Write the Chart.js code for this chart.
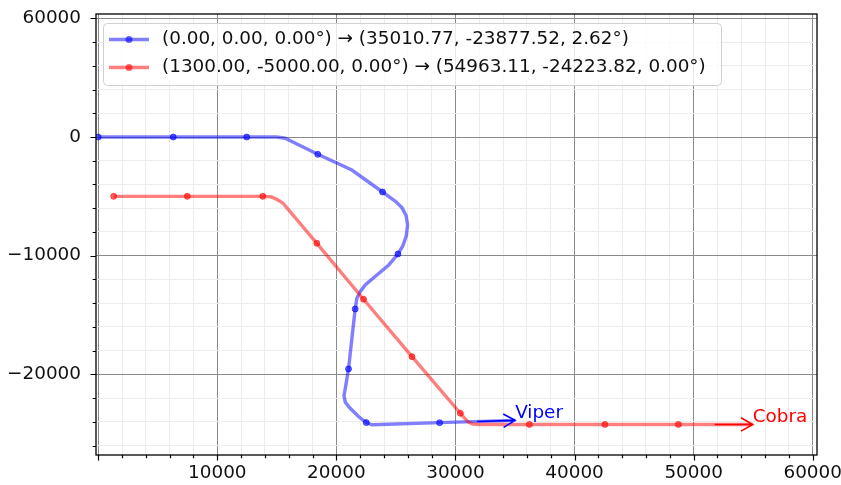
<!DOCTYPE html>
<html>
<head>
<meta charset="utf-8">
<script src="https://cdn.jsdelivr.net/npm/chart.js@4.4.1/dist/chart.umd.min.js"></script>
<style>
  html, body { margin: 0; padding: 0; background: #fff; }
  canvas { display: block; }
</style>
</head>
<body>
<canvas id="stage" width="841" height="485"></canvas>
<script>
// Viper track
const viperName = 'Viper';
const viperLabel = '(0.00, 0.00, 0.00°) → (35010.77, -23877.52, 2.62°)';
const viperPathX = [0, 6300, 12470, 15000, 15700, 16300, 18440, 21300, 23880, 25000, 25500, 25850, 25980, 25880, 25570, 25170, 24400, 23400, 22420, 22000, 21720, 21580, 21300, 21020, 20780, 20640, 20750, 21160, 21860, 22510, 22990, 28670, 35010.77];
const viperPathY = [0, 0, 0, 0, -100, -400, -1458, -2780, -4633, -5450, -5950, -6600, -7400, -8300, -9200, -9857, -10780, -11630, -12470, -13030, -13590, -14490, -17000, -19545, -21000, -21800, -22350, -22860, -23560, -24070, -24250, -24074, -23877.52];
const viperMarkX = [0, 6300, 12470, 18440, 23880, 25170, 21580, 21020, 22510, 28670];
const viperMarkY = [0, 0, 0, -1458, -4633, -9857, -14490, -19545, -24070, -24074];

// Cobra track
const cobraName = 'Cobra';
const cobraLabel = '(1300.00, -5000.00, 0.00°) → (54963.11, -24223.82, 0.00°)';
const cobraPathX = [1300, 7480, 13820, 14500, 15000, 15500, 18360, 22280, 26350, 30410, 30800, 31100, 31450, 31900, 36210, 42550, 48720, 54963.11];
const cobraPathY = [-5000, -5000, -5000, -5030, -5250, -5560, -8955, -13670, -18510, -23280, -23740, -24030, -24190, -24224, -24224, -24224, -24224, -24223.82];
const cobraMarkX = [1300, 7480, 13820, 18360, 22280, 26350, 30410, 36210, 42550, 48720];
const cobraMarkY = [-5000, -5000, -5000, -8955, -13670, -18510, -23280, -24224, -24224, -24224];

// axis ticks
const xMajorTicks = [0, 10000, 20000, 30000, 40000, 50000, 60000];
const xTickLabels = ['', '10000', '20000', '30000', '40000', '50000', '60000'];
const yMajorTicks = [-20000, -10000, 0, 10000];
const yTickLabels = ['−20000', '−10000', '0', '60000'];
const minorStep = 2000;

const FONT = '"DejaVu Sans", sans-serif';
const FONT_SIZE = 18.4;

function pts(xs, ys) {
  return xs.map((x, i) => ({ x: x, y: ys[i] }));
}

function tickValues(min, max) {
  const out = [];
  for (let v = Math.ceil(min / minorStep) * minorStep; v <= max; v += minorStep) out.push({ value: v });
  return out;
}

const ships = [
  { name: viperName, label: viperLabel, line: 'rgba(0,0,255,0.5)', dot: 'rgba(0,0,255,0.6)', solid: '#0000ff' },
  { name: cobraName, label: cobraLabel, line: 'rgba(255,0,0,0.5)', dot: 'rgba(255,0,0,0.6)', solid: '#ff0000' }
];

function pathSet(xs, ys, color, order) {
  return { data: pts(xs, ys), showLine: true, borderColor: color, borderWidth: 3.4, pointRadius: 0, tension: 0, order: order };
}
function markSet(xs, ys, color, order) {
  return { data: pts(xs, ys), showLine: false, backgroundColor: color, borderColor: color, borderWidth: 1, pointRadius: 3, order: order };
}

// tick marks: long for major, short for minor
const tickMarks = {
  id: 'tickMarks',
  afterDraw(chart) {
    const ctx = chart.ctx, a = chart.chartArea;
    const sx = chart.scales.x, sy = chart.scales.y;
    ctx.save();
    ctx.strokeStyle = '#000';
    ctx.lineWidth = 1.2;
    ctx.beginPath();
    sx.ticks.forEach(t => {
      const p = Math.round(sx.getPixelForValue(t.value)) + 0.5;
      const len = xMajorTicks.includes(t.value) ? 5.5 : 3.3;
      ctx.moveTo(p, a.bottom); ctx.lineTo(p, a.bottom + len);
    });
    sy.ticks.forEach(t => {
      const p = Math.round(sy.getPixelForValue(t.value)) + 0.5;
      const len = yMajorTicks.includes(t.value) ? 5.5 : 3.3;
      ctx.moveTo(a.left, p); ctx.lineTo(a.left - len, p);
    });
    ctx.stroke();
    // frame
    ctx.lineWidth = 1.3;
    ctx.strokeRect(a.left, a.top, a.right - a.left, a.bottom - a.top);
    ctx.restore();
  }
};

// end-of-track arrows with ship names
const shipTags = {
  id: 'shipTags',
  afterDatasetsDraw(chart) {
    const ctx = chart.ctx;
    const sx = chart.scales.x, sy = chart.scales.y;
    const tracks = [[viperPathX, viperPathY], [cobraPathX, cobraPathY]];
    ctx.save();
    tracks.forEach((tr, i) => {
      const n = tr[0].length;
      const tx = sx.getPixelForValue(tr[0][n - 1]), ty = sy.getPixelForValue(tr[1][n - 1]);
      const px = sx.getPixelForValue(tr[0][n - 2]), py = sy.getPixelForValue(tr[1][n - 2]);
      const ang = Math.atan2(ty - py, tx - px);
      const shaft = 38, head = 13.5, spread = 0.52;
      ctx.strokeStyle = ships[i].solid;
      ctx.lineWidth = 1.6;
      ctx.beginPath();
      ctx.moveTo(tx - shaft * Math.cos(ang), ty - shaft * Math.sin(ang));
      ctx.lineTo(tx, ty);
      ctx.moveTo(tx - head * Math.cos(ang - spread), ty - head * Math.sin(ang - spread));
      ctx.lineTo(tx, ty);
      ctx.lineTo(tx - head * Math.cos(ang + spread), ty - head * Math.sin(ang + spread));
      ctx.stroke();
      ctx.fillStyle = ships[i].solid;
      ctx.font = FONT_SIZE + 'px ' + FONT;
      ctx.textAlign = 'left';
      ctx.textBaseline = 'alphabetic';
      ctx.fillText(ships[i].name, tx, ty - 2);
    });
    ctx.restore();
  }
};

// legend box in the upper left of the plot
const boxLegend = {
  id: 'boxLegend',
  afterDraw(chart) {
    const ctx = chart.ctx, a = chart.chartArea;
    const left = a.left + 7, top = a.top + 9, w = 618, h = 62;
    ctx.save();
    ctx.beginPath();
    ctx.roundRect(left + 0.5, top + 0.5, w, h, 4);
    ctx.fillStyle = 'rgba(255,255,255,0.8)';
    ctx.fill();
    ctx.strokeStyle = '#d0d0d0';
    ctx.lineWidth = 1;
    ctx.stroke();
    ships.forEach((s, i) => {
      const y = top + 16.5 + i * 28;
      ctx.strokeStyle = s.line;
      ctx.lineWidth = 3.4;
      ctx.beginPath();
      ctx.moveTo(left + 6, y); ctx.lineTo(left + 46, y);
      ctx.stroke();
      ctx.fillStyle = s.dot;
      ctx.beginPath();
      ctx.arc(left + 26, y, 3.5, 0, Math.PI * 2);
      ctx.fill();
      ctx.fillStyle = '#111';
      ctx.font = FONT_SIZE + 'px ' + FONT;
      ctx.textAlign = 'left';
      ctx.textBaseline = 'middle';
      ctx.fillText(s.label, left + 59, y);
    });
    ctx.restore();
  }
};

const canvas = document.getElementById('stage');
const chart = new Chart(canvas, {
  type: 'scatter',
  data: {
    datasets: [
      pathSet(viperPathX, viperPathY, ships[0].line, 4),
      markSet(viperMarkX, viperMarkY, ships[0].dot, 3),
      pathSet(cobraPathX, cobraPathY, ships[1].line, 2),
      markSet(cobraMarkX, cobraMarkY, ships[1].dot, 1)
    ]
  },
  options: {
    responsive: false,
    animation: false,
    layout: { padding: { left: 0, top: 14, right: 24, bottom: 0 } },
    plugins: { legend: { display: false }, tooltip: { enabled: false } },
    scales: {
      x: {
        type: 'linear',
        min: -185,
        max: 60360,
        afterBuildTicks: s => { s.ticks = tickValues(0, 60360); },
        afterFit: s => { s.height = 30; s.paddingLeft = 0; s.paddingRight = 0; },
        border: { display: false },
        grid: {
          drawTicks: false,
          lineWidth: 1,
          color: c => xMajorTicks.includes(c.tick.value) ? '#8a8a8a' : '#ececec'
        },
        ticks: {
          autoSkip: false,
          maxRotation: 0,
          padding: 7,
          color: '#111',
          font: { family: FONT, size: FONT_SIZE },
          callback: v => { const i = xMajorTicks.indexOf(v); return i < 0 ? '' : xTickLabels[i]; }
        }
      },
      y: {
        type: 'linear',
        min: -26800,
        max: 10370,
        afterBuildTicks: s => { s.ticks = tickValues(-26800, 10370); },
        afterFit: s => { s.width = 96; s.paddingTop = 0; s.paddingBottom = 0; },
        border: { display: false },
        grid: {
          drawTicks: false,
          lineWidth: 1,
          color: c => yMajorTicks.includes(c.tick.value) ? '#8a8a8a' : '#ececec'
        },
        ticks: {
          autoSkip: false,
          padding: 15,
          color: '#111',
          font: { family: FONT, size: FONT_SIZE },
          callback: v => { const i = yMajorTicks.indexOf(v); return i < 0 ? '' : yTickLabels[i]; }
        }
      }
    }
  },
  plugins: [shipTags, tickMarks, boxLegend]
});
</script>
</body>
</html>
